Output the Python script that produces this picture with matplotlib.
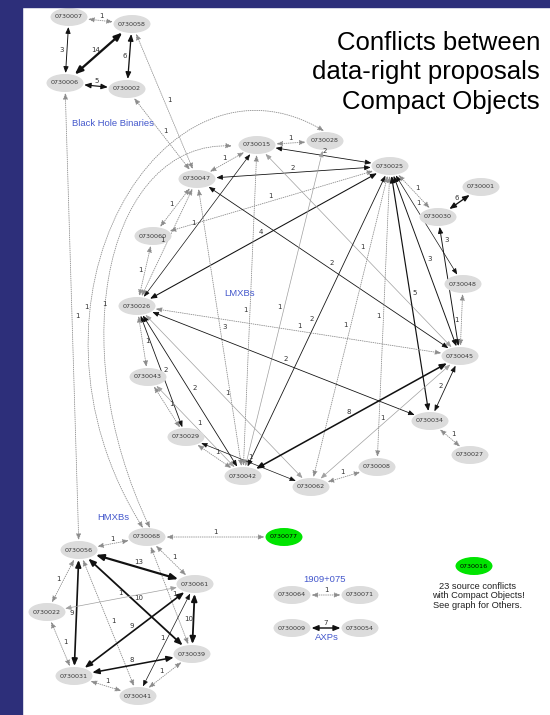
import matplotlib
matplotlib.use("Agg")
import matplotlib.pyplot as plt
import numpy as np
from matplotlib.patches import Ellipse, Rectangle, FancyArrowPatch
from matplotlib.path import Path

# nodes (layout in pixel space of the 550x715 page)
node_ids = ['0730007', '0730058', '0730006', '0730002', '0730015', '0730028', '0730025',
            '0730047', '0730001', '0730030', '0730060', '0730048', '0730026', '0730045',
            '0730043', '0730034', '0730027', '0730029', '0730042', '0730008', '0730062',
            '0730068', '0730077', '0730056', '0730061', '0730022', '0730039', '0730031',
            '0730041', '0730064', '0730071', '0730009', '0730054', '0730016']
node_x = [69, 132, 65, 127, 257, 325, 390, 197, 481, 438, 153, 463, 137, 460, 148, 430, 470,
          186, 243, 377, 311, 147, 284, 79, 195, 47, 192, 74, 138, 292, 360, 292, 360, 474]
node_y = [17, 24, 83, 89, 145, 141, 166, 179, 187, 217, 236, 284, 306, 356, 377, 421, 455,
          437, 476, 467, 487, 537, 537, 550, 584, 612, 654, 676, 696, 595, 595, 628, 628, 566]
green_nodes = ['0730077', '0730016']

# conflicts: source, target, number of conflicts, line kind
edge_src = ['0730007', '0730007', '0730058', '0730058', '0730006', '0730058', '0730002', '0730006',
            '0730015', '0730015', '0730047', '0730047', '0730060', '0730026', '0730026', '0730047',
            '0730047', '0730060', '0730060', '0730047', '0730015', '0730028', '0730025', '0730025',
            '0730025', '0730025', '0730025', '0730025', '0730025', '0730030', '0730030', '0730048',
            '0730026', '0730026', '0730026', '0730026', '0730026', '0730026', '0730043', '0730043',
            '0730029', '0730029', '0730062', '0730045', '0730045', '0730045', '0730034', '0730015',
            '0730068', '0730068', '0730068', '0730068', '0730056', '0730056', '0730056', '0730056',
            '0730056', '0730022', '0730022', '0730061', '0730061', '0730061', '0730039', '0730039',
            '0730031', '0730064', '0730009']
edge_dst = ['0730058', '0730006', '0730006', '0730002', '0730002', '0730047', '0730047', '0730056',
            '0730028', '0730025', '0730025', '0730015', '0730025', '0730015', '0730025', '0730045',
            '0730042', '0730047', '0730026', '0730026', '0730045', '0730042', '0730042', '0730062',
            '0730008', '0730034', '0730045', '0730048', '0730030', '0730001', '0730045', '0730045',
            '0730045', '0730034', '0730062', '0730042', '0730029', '0730043', '0730029', '0730042',
            '0730062', '0730042', '0730008', '0730042', '0730062', '0730034', '0730027', '0730042',
            '0730056', '0730077', '0730061', '0730039', '0730061', '0730039', '0730031', '0730041',
            '0730022', '0730061', '0730031', '0730031', '0730039', '0730041', '0730031', '0730041',
            '0730041', '0730071', '0730054']
edge_w = [1, 3, 14, 6, 5, 1, 1, 1,
          1, 2, 2, 1, 1, 1, 4, 2,
          3, 1, 1, 1, 1, 1, 2, 1,
          1, 5, 3, 1, 1, 6, 3, 1,
          1, 2, 1, 2, 2, 1, 1, 1,
          1, 1, 1, 8, 1, 2, 1, 1,
          1, 1, 1, 1, 13, 10, 9, 1,
          1, 1, 1, 9, 10, 1, 8, 1,
          1, 1, 7]
edge_kind = ['dot', 'solid', 'solid', 'solid', 'solid', 'dot', 'dot', 'dot',
             'dot', 'solid', 'solid', 'dot', 'dot', 'solid', 'solid', 'solid',
             'dot', 'dot', 'dot', 'dot', 'gray', 'gray', 'solid', 'dot',
             'dot', 'solid', 'solid', 'solid', 'dot', 'solid', 'solid', 'dot',
             'dot', 'solid', 'gray', 'solid', 'solid', 'dot', 'dot', 'gray',
             'solid', 'dot', 'dot', 'solid', 'gray', 'solid', 'dot', 'dot',
             'dot', 'dot', 'dot', 'dot', 'solid', 'solid', 'solid', 'dot',
             'dot', 'gray', 'dot', 'solid', 'solid', 'solid', 'solid', 'dot',
             'dot', 'dot', 'solid']
# where the count sits along an edge (0.5 = middle), exceptions only
label_at = {('0730030', '0730045'): 0.12, ('0730025', '0730048'): 0.3}

# two long curved conflicts (control points of the spline)
arc_src = ['0730068', '0730068']
arc_dst = ['0730028', '0730015']
arc_c1 = [(0, 300), (60, 340)]
arc_c2 = [(165, 35), (110, 140)]
arc_start = [(143, 528), (150, 528)]
arc_end = [(324, 131), (232, 146)]

group_labels = ['Black Hole Binaries', 'LMXBs', 'HMXBs', '1909+075', 'AXPs']
group_x = [113, 240, 113, 325, 327]
group_y = [123, 293, 517, 579, 638]

title_lines = ['Conflicts between', 'data-right proposals', 'Compact Objects']
note = '23 source conflicts\nwith Compact Objects!\nSee graph for Others.'

pos = {n: (x, y) for n, x, y in zip(node_ids, node_x, node_y)}
EW, EH = 37, 18   # ellipse size (px)

fig = plt.figure(figsize=(5.5, 7.15), dpi=100)
ax = fig.add_axes([0, 0, 1, 1])
ax.set_xlim(0, 550)
ax.set_ylim(715, 0)
ax.axis('off')

navy = '#2d2f7a'
ax.add_patch(Rectangle((0, 0), 22, 715, color=navy, zorder=10))
ax.add_patch(Rectangle((0, 0), 550, 7, color=navy, zorder=10))


def boundary(p, q):
    # point where the segment p->q leaves the ellipse around p
    d = np.array(q, float) - np.array(p, float)
    u = d / np.hypot(*d)
    t = 1.0 / np.sqrt((u[0] / (EW / 2)) ** 2 + (u[1] / (EH / 2)) ** 2)
    return np.array(p, float) + u * (t + 1)


def style(w, kind):
    if kind == 'solid':
        return dict(color='#111111', lw=0.4 + 0.09 * w, ls='-')
    if kind == 'gray':
        return dict(color='#a0a0a0', lw=0.5, ls='-')
    return dict(color='#8c8c8c', lw=0.6, ls=(0, (1, 1.6)))


for s, d, w, k in zip(edge_src, edge_dst, edge_w, edge_kind):
    a = boundary(pos[s], pos[d])
    b = boundary(pos[d], pos[s])
    st = style(w, k)
    arr = FancyArrowPatch(a, b, arrowstyle='<|-|>,head_length=0.42,head_width=0.17',
                          mutation_scale=7.5 + 2 * st['lw'], color=st['color'],
                          lw=st['lw'], linestyle=st['ls'], shrinkA=0, shrinkB=0, zorder=2)
    ax.add_patch(arr)
    f = label_at.get((s, d), 0.5)
    mid = a + (b - a) * f
    v = b - a
    n = np.array([v[1], -v[0]]) / np.hypot(*v)
    if n[1] > 0:
        n = -n
    lp = mid + n * 5
    ax.text(lp[0], lp[1], str(w), fontsize=5, color='#333333', ha='center', va='center',
            zorder=5)

for s, d, c1, c2, p0, p3 in zip(arc_src, arc_dst, arc_c1, arc_c2, arc_start, arc_end):
    path = Path([p0, c1, c2, p3], [Path.MOVETO, Path.CURVE4, Path.CURVE4, Path.CURVE4])
    arr = FancyArrowPatch(path=path, arrowstyle='<|-|>,head_length=0.42,head_width=0.17',
                          mutation_scale=8.7, color='#8c8c8c', lw=0.6, linestyle=(0, (1, 1.6)),
                          shrinkA=0, shrinkB=0, zorder=2)
    ax.add_patch(arr)

# arc labels
ax.text(86, 307, '1', fontsize=5, color='#333333', ha='center', va='center', zorder=5)
ax.text(104, 304, '1', fontsize=5, color='#333333', ha='center', va='center', zorder=5)

for n, x, y in zip(node_ids, node_x, node_y):
    fc = '#00e400' if n in green_nodes else '#dcdcdc'
    tc = 'black' if n in green_nodes else '#3a3a3a'
    ax.add_patch(Ellipse((x, y), EW, EH, facecolor=fc, edgecolor='none', zorder=3))
    ax.text(x, y, n, fontsize=4.6, color=tc, ha='center', va='center', zorder=4)

for t, x, y in zip(group_labels, group_x, group_y):
    ax.text(x, y, t, fontsize=6.8, color='#4458cc', ha='center', va='center',
            family='Liberation Sans', zorder=5)

for i, t in enumerate(title_lines):
    ax.text(540, 43 + 29.5 * i, t, fontsize=18.5, color='black', ha='right', va='center',
            family='Liberation Sans', zorder=5)

ax.text(478, 596, note, fontsize=6.7, color='#222222', ha='center', va='center',
        family='Liberation Sans', linespacing=1.05, zorder=5)

fig.savefig('out.png', dpi=100)
